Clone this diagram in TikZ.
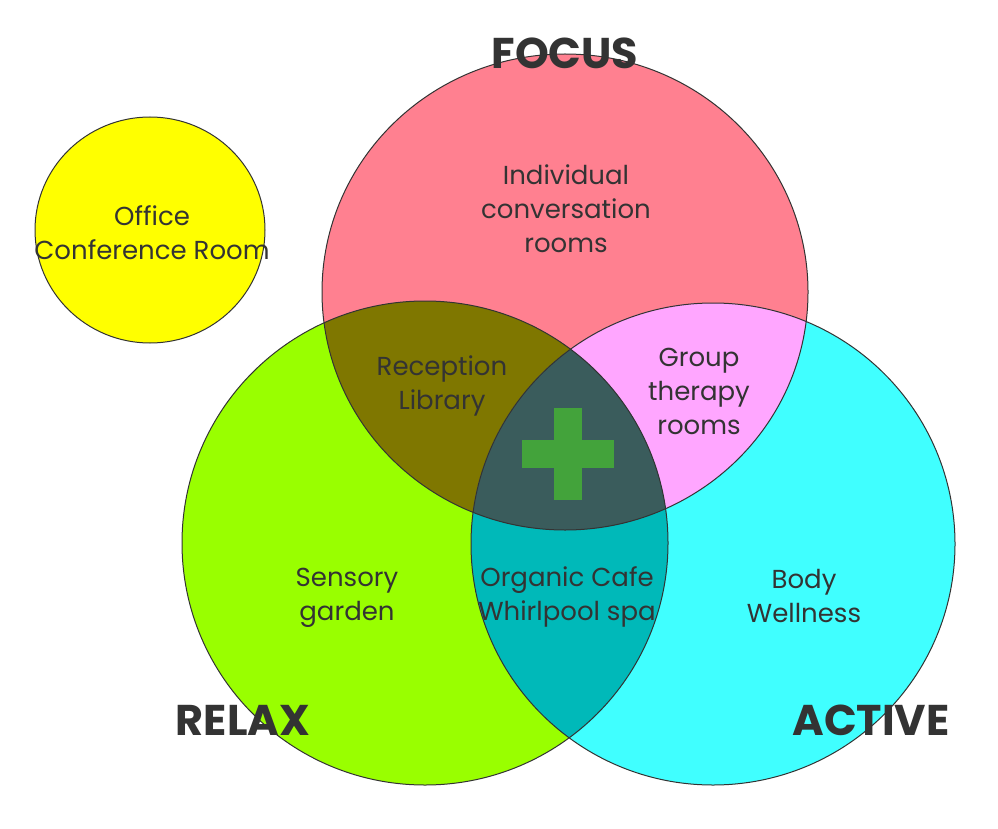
\documentclass[tikz,border=0pt]{standalone}
\usepackage{fontspec}
\setmainfont{Poppins}
\definecolor{cred}{HTML}{FF8090}
\definecolor{cgreen}{HTML}{99FF00}
\definecolor{ccyan}{HTML}{40FFFF}
\definecolor{cyellow}{HTML}{FFFF00}
\definecolor{colive}{HTML}{7F7700}
\definecolor{cpink}{HTML}{FFA6FF}
\definecolor{cteal}{HTML}{00B9B9}
\definecolor{ctriple}{HTML}{3A5C5C}
\definecolor{ccross}{HTML}{43A33B}
\definecolor{ctext}{HTML}{333333}
\def\pRed{(565,292) ellipse [x radius=243, y radius=238]}
\def\pGreen{(425,543) ellipse [x radius=243, y radius=242]}
\def\pCyan{(713,544) ellipse [x radius=242, y radius=241]}
\def\pYellow{(150,230) ellipse [x radius=115, y radius=113]}
\tikzset{
  outline/.style={draw=black!80, line width=1pt},
  lbl/.style={text=ctext, align=center, font=\fontsize{26}{34}\selectfont},
  big/.style={text=ctext, font=\fontsize{43}{46}\selectfont\bfseries},
}
\begin{document}
\begin{tikzpicture}[x=1pt,y=-1pt]
\useasboundingbox (0,0) rectangle (998,829);
\fill[white] (0,0) rectangle (998,829);
% base fills
\fill[cyellow] \pYellow;
\fill[cred] \pRed;
\fill[cgreen] \pGreen;
\fill[ccyan] \pCyan;
% pairwise overlaps
\begin{scope}\clip \pRed; \fill[colive] \pGreen; \end{scope}
\begin{scope}\clip \pRed; \fill[cpink] \pCyan; \end{scope}
\begin{scope}\clip \pGreen; \fill[cteal] \pCyan; \end{scope}
\begin{scope}\clip \pRed; \clip \pGreen; \fill[ctriple] \pCyan; \end{scope}
% outlines
\draw[outline] \pYellow;
\draw[outline] \pRed;
\draw[outline] \pGreen;
\draw[outline] \pCyan;
% cross
\fill[ccross] (554,408) rectangle (582,500);
\fill[ccross] (522,440) rectangle (614,468);
\coordinate (crosscenter) at (568,454);
% labels
\node[lbl] (office) at (152,233) {Office\\Conference Room};
\node[lbl] (indiv) at (566,209) {Individual\\conversation\\rooms};
\node[lbl] (recep) at (442,386) {Reception\\Library};
\node[lbl] (group) at (699,391) {Group\\therapy\\rooms};
\node[lbl] (sens) at (347,598) {Sensory\\garden};
\node[lbl] (cafe) at (567,597) {Organic Cafe\\Whirlpool spa};
\node[lbl] (body) at (804,596) {Body\\Wellness};
\node[big] (focus) at (565,53) {FOCUS};
\node[big] (relax) at (243,720) {RELAX};
\node[big] (active) at (871,720) {ACTIVE};
\end{tikzpicture}
\end{document}
